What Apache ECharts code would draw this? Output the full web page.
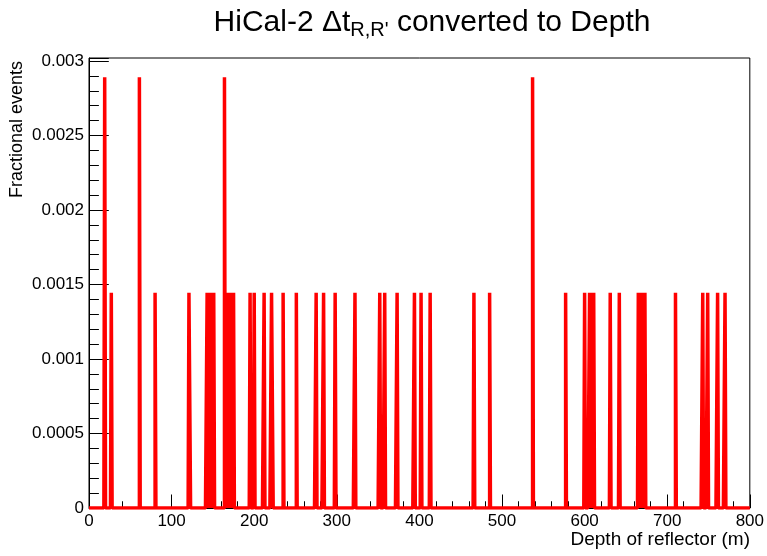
<!DOCTYPE html>
<html>
<head>
<meta charset="utf-8">
<script src="https://cdn.jsdelivr.net/npm/echarts@6/dist/echarts.min.js"></script>
<style>
html,body{margin:0;padding:0;background:#fff;}
#c{width:767px;height:556px;}
</style>
</head>
<body>
<div id="c"></div>
<script>
// Histogram: depth of reflector (m), 1 m bins from 0 to 800
const binWidth = 1;
const depthMin = 0;
const depthMax = 800;
// Bins holding two entries (fraction ~0.00289)
const tallBins = [19, 61, 164, 537];
const tallFraction = 0.00289;
// Bins holding one entry (fraction ~0.001445)
const halfBins = [27, 80, 121, 122, 143, 146, 148, 151, 167, 170, 172, 175,
  195, 200, 212, 221, 222, 235, 251, 275, 284, 298, 322, 352, 358, 373,
  394, 402, 413, 466, 485, 577, 600, 606, 609, 611, 631, 642, 665, 668,
  671, 673, 710, 743, 749, 761, 770];
const halfFraction = 0.001445;
// Axis ticks
const yTicks = [0, 0.0005, 0.001, 0.0015, 0.002, 0.0025, 0.003];
const xTicks = [0, 100, 200, 300, 400, 500, 600, 700, 800];

const nBins = Math.round((depthMax - depthMin) / binWidth);
const counts = new Array(nBins).fill(0);
halfBins.forEach(b => { counts[Math.floor((b - depthMin) / binWidth)] = halfFraction; });
tallBins.forEach(b => { counts[Math.floor((b - depthMin) / binWidth)] = tallFraction; });
const stepData = counts.map((v, i) => [depthMin + i * binWidth, v]);
stepData.push([depthMax, 0]);

const FONT = '"Liberation Sans", Arial, Helvetica, sans-serif';
const chart = echarts.init(document.getElementById('c'), null, {renderer: 'canvas'});
chart.setOption({
  animation: false,
  backgroundColor: '#ffffff',
  grid: {left: 89, right: 17, top: 58, bottom: 48, show: true,
    borderColor: '#000', borderWidth: 1, backgroundColor: 'transparent', containLabel: false},
  xAxis: {
    type: 'value', min: depthMin, max: depthMax, interval: xTicks[1] - xTicks[0],
    axisLine: {show: true, onZero: false, lineStyle: {color: '#000', width: 1}},
    axisTick: {show: true, inside: true, length: 13.5, lineStyle: {color: '#000', width: 1}},
    minorTick: {show: true, splitNumber: 5, length: 6.75, lineStyle: {color: '#000', width: 1}},
    splitLine: {show: false},
    axisLabel: {color: '#000', fontFamily: FONT, fontSize: 17, margin: 5}
  },
  yAxis: {
    type: 'value', min: 0, max: 0.00302, interval: yTicks[1] - yTicks[0],
    axisLine: {show: true, onZero: false, lineStyle: {color: '#000', width: 1}},
    axisTick: {show: true, inside: true, length: 19.8, lineStyle: {color: '#000', width: 1}},
    minorTick: {show: true, splitNumber: 5, length: 9.9, lineStyle: {color: '#000', width: 1}},
    splitLine: {show: false},
    axisLabel: {color: '#000', fontFamily: FONT, fontSize: 17, margin: 5, showMaxLabel: false,
      formatter: v => (yTicks.some(t => Math.abs(t - v) < 1e-9) ? String(+v.toFixed(4)) : '')}
  },
  series: [{
    type: 'line', step: 'end', data: stepData, symbol: 'none', showSymbol: false,
    lineStyle: {color: '#ff0000', width: 3.5}, clip: true, z: 1
  }],
  graphic: [
    {type: 'text', x: 432, y: 8, style: {
      text: '{m|HiCal-2 Δt}{s|R,R\'}{m| converted to Depth}',
      align: 'center', verticalAlign: 'top',
      rich: {
        m: {fontFamily: FONT, fontSize: 30, fill: '#000', lineHeight: 32, verticalAlign: 'top'},
        s: {fontFamily: FONT, fontSize: 20, fill: '#000', lineHeight: 22, padding: [18, 0, 0, 0], verticalAlign: 'bottom'}
      }
    }},
    {type: 'text', x: 26, y: 61, rotation: Math.PI / 2, style: {
      text: 'Fractional events', fontFamily: FONT, fontSize: 18, fill: '#000',
      align: 'right', verticalAlign: 'bottom'
    }},
    {type: 'text', x: 750, y: 530, style: {
      text: 'Depth of reflector (m)', fontFamily: FONT, fontSize: 19, fill: '#000',
      align: 'right', verticalAlign: 'top'
    }}
  ]
});
</script>
</body>
</html>
